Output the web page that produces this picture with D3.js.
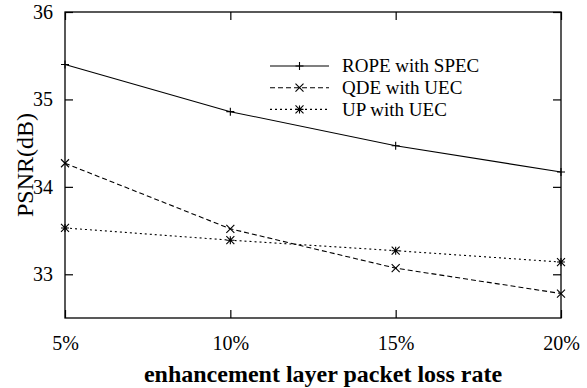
<!DOCTYPE html>
<html>
<head>
<meta charset="utf-8">
<script src="https://cdn.jsdelivr.net/npm/d3@7"></script>
<style>
  body { margin: 0; background: #fff; }
  svg text { font-family: "Liberation Serif", "Times New Roman", Times, serif; fill: #000; }
</style>
</head>
<body>
<div id="chart"></div>
<script>
// Données
const lossRates = [5, 10, 15, 20];
const xTickLabels = ['5%', '10%', '15%', '20%'];
const yTicks = [33, 34, 35, 36];
const ropeSpec = [35.40, 34.86, 34.47, 34.17];
const qdeUec = [34.27, 33.52, 33.07, 32.78];
const upUec = [33.53, 33.39, 33.27, 33.14];
const seriesNames = ['ROPE with SPEC', 'QDE with UEC', 'UP with UEC'];

const width = 587, height = 388;
const margin = { left: 65, right: 26, top: 12, bottom: 70 };
const serif = '"Liberation Serif", "Times New Roman", serif';

const svg = d3.select('#chart').append('svg')
    .attr('width', width)
    .attr('height', height);

const x = d3.scaleLinear().domain([5, 20]).range([margin.left, width - margin.right]);
const y = d3.scaleLinear().domain([32.5, 36]).range([height - margin.bottom, margin.top]);

// Axes avec graduations vers l'intérieur
const tickLen = 8;
svg.append('g')
    .attr('transform', `translate(0,${y(32.5)})`)
    .call(d3.axisBottom(x).tickValues(lossRates).tickSize(-tickLen).tickFormat((d, i) => xTickLabels[i]).tickPadding(18))
    .call(g => g.select('.domain').remove());
svg.append('g')
    .attr('transform', `translate(0,${y(36)})`)
    .call(d3.axisTop(x).tickValues(lossRates).tickSize(-tickLen).tickFormat(''))
    .call(g => g.select('.domain').remove());
svg.append('g')
    .attr('transform', `translate(${x(5)},0)`)
    .call(d3.axisLeft(y).tickValues(yTicks).tickSize(-tickLen).tickFormat(d3.format('d')).tickPadding(12))
    .call(g => g.select('.domain').remove());
svg.append('g')
    .attr('transform', `translate(${x(20)},0)`)
    .call(d3.axisRight(y).tickValues(yTicks).tickSize(-tickLen).tickFormat(''))
    .call(g => g.select('.domain').remove());

svg.selectAll('g').attr('font-family', serif);
svg.selectAll('.tick line').attr('stroke', '#000').attr('stroke-width', 1.2);
svg.selectAll('.tick text').attr('font-size', 20).attr('font-family', serif);

// Cadre
svg.append('rect')
    .attr('x', x(5)).attr('y', y(36))
    .attr('width', x(20) - x(5)).attr('height', y(32.5) - y(36))
    .attr('fill', 'none').attr('stroke', '#000').attr('stroke-width', 1.3);

// Titres des axes
svg.append('text')
    .attr('x', (x(5) + x(20)) / 2 + 10)
    .attr('y', 382)
    .attr('text-anchor', 'middle')
    .attr('font-size', 24)
    .attr('font-weight', 'bold')
    .text('enhancement layer packet loss rate');
svg.append('text')
    .attr('transform', 'translate(33,165) rotate(-90)')
    .attr('text-anchor', 'middle')
    .attr('font-size', 24)
    .text('PSNR(dB)');

// Marqueurs
function marker(g, type, cx, cy) {
    const s = 4;
    const path = d3.path();
    if (type === 'plus' || type === 'star') {
        path.moveTo(cx - s, cy); path.lineTo(cx + s, cy);
        path.moveTo(cx, cy - s); path.lineTo(cx, cy + s);
    }
    if (type === 'cross' || type === 'star') {
        path.moveTo(cx - s, cy - s); path.lineTo(cx + s, cy + s);
        path.moveTo(cx - s, cy + s); path.lineTo(cx + s, cy - s);
    }
    g.append('path').attr('d', path.toString()).attr('stroke', '#000').attr('stroke-width', 1.1).attr('fill', 'none');
}

const series = [
    { name: seriesNames[0], values: ropeSpec, dash: null, type: 'plus' },
    { name: seriesNames[1], values: qdeUec, dash: '5,3', type: 'cross' },
    { name: seriesNames[2], values: upUec, dash: '2,3', type: 'star' }
];

const line = d3.line()
    .x((d, i) => x(lossRates[i]))
    .y(d => y(d));

series.forEach(s => {
    const g = svg.append('g');
    g.append('path')
        .datum(s.values)
        .attr('d', line)
        .attr('fill', 'none')
        .attr('stroke', '#000')
        .attr('stroke-width', 1.1)
        .attr('stroke-dasharray', s.dash);
    s.values.forEach((v, i) => marker(g, s.type, x(lossRates[i]), y(v)));
});

// Légende
const legend = svg.append('g');
series.forEach((s, i) => {
    const ly = 66 + i * 21.7;
    legend.append('line')
        .attr('x1', 270).attr('x2', 329)
        .attr('y1', ly).attr('y2', ly)
        .attr('stroke', '#000')
        .attr('stroke-width', 1.1)
        .attr('stroke-dasharray', s.dash);
    marker(legend, s.type, 299.5, ly);
    legend.append('text')
        .attr('x', 342)
        .attr('y', ly)
        .attr('dy', '0.33em')
        .attr('font-size', 19)
        .attr('font-family', serif)
        .text(s.name);
});
</script>
</body>
</html>
